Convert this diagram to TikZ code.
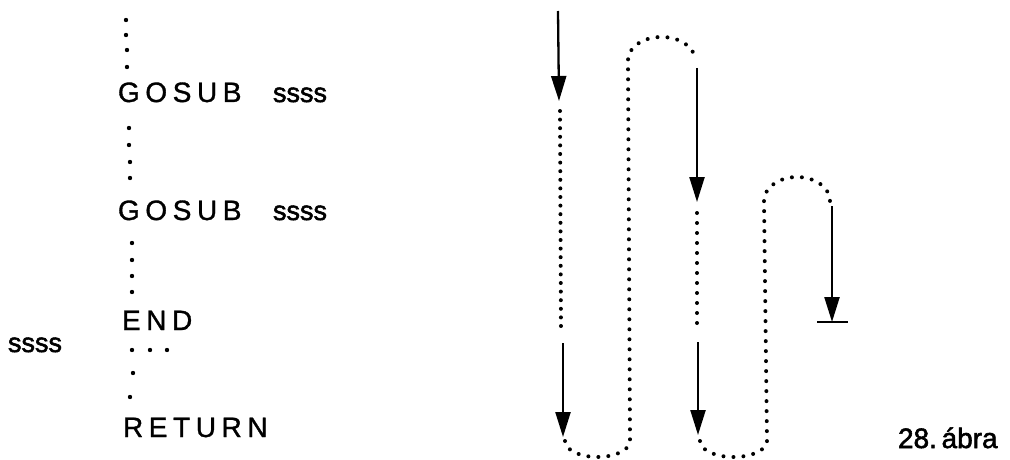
\documentclass[tikz,border=0pt]{standalone}
\usepackage{fontspec}
\setmainfont{Liberation Sans}
\newfontfamily\spaced[LetterSpace=20,FakeBold=1.2]{Liberation Sans}
\newfontfamily\heavy[FakeBold=2]{Liberation Sans}
\usetikzlibrary{arrows.meta}
\begin{document}
\begin{tikzpicture}[x=1pt,y=-1pt,
  txt/.style={anchor=base west,inner sep=0pt,outer sep=0pt,font=\fontsize{28}{28}\selectfont\spaced},
  lbl/.style={anchor=base west,inner sep=0pt,outer sep=0pt,font=\fontsize{27}{27}\selectfont\heavy},
  fig/.style={anchor=base west,inner sep=0pt,outer sep=0pt,font=\fontsize{28}{28}\selectfont\heavy},
  flow/.style={line width=2.3pt,-{Triangle[width=15pt,length=25pt]}},
  dotline/.style={line width=4pt,line cap=round,dash pattern=on 0pt off 10pt},
  dotline1/.style={line width=4pt,line cap=round,dash pattern=on 0pt off 8.6pt},
  pt/.style={fill=black}]
\useasboundingbox (0,0) rectangle (1010,460);
\fill[white] (0,0) rectangle (1010,460);

% left program listing
\foreach \x/\y in {126/20,126/35,127/50,127/67,129/128,129/145,130/162,130/178,132/243,132/260,132/276,132/292,132/350,150/350,167/350,133/373,130/397}
  \fill[pt] (\x,\y) circle[radius=2.2pt];
\node[txt] (g1) at (118,102) {GOSUB};
\node[lbl] (s1) at (273,102) {ssss};
\node[txt] (g2) at (118,220) {GOSUB};
\node[lbl] (s2) at (273,220) {ssss};
\node[txt] (en) at (122,330) {END};
\node[lbl] (s3) at (8,352) {ssss};
\node[txt] (rt) at (123,437) {RETURN};
\node[fig] (cap) at (898,448) {28.\,ábra};

% flow coordinates
\coordinate (a1s) at (558,11);  \coordinate (a1e) at (559,101);
\coordinate (d1s) at (560,111); \coordinate (d1e) at (561,333);
\coordinate (a2s) at (563,343); \coordinate (a2e) at (563,437);
\coordinate (b1s) at (565,441); \coordinate (u1) at (628,60);
\coordinate (a3s) at (697,68);  \coordinate (a3e) at (697,202);
\coordinate (d2s) at (697,213); \coordinate (d2e) at (697,330);
\coordinate (a4s) at (698,342); \coordinate (a4e) at (698,435);
\coordinate (b2s) at (700,441); \coordinate (u2) at (764,201);
\coordinate (a5s) at (832,206); \coordinate (a5e) at (832,322);
\coordinate (bl) at (817,322);  \coordinate (br) at (848,322);

\draw[flow] (a1s) -- (a1e);
\draw[dotline1] (d1s) -- (d1e);
\draw[flow] (a2s) -- (a2e);
\draw[dotline] (b1s) arc[start angle=180,end angle=0,x radius=32.5,y radius=16]
  -- (u1) arc[start angle=180,end angle=360,x radius=33.5,y radius=23];
\draw[flow] (a3s) -- (a3e);
\draw[dotline] (d2s) -- (d2e);
\draw[flow] (a4s) -- (a4e);
\draw[dotline] (b2s) arc[start angle=180,end angle=0,x radius=33.5,y radius=16]
  -- (u2) arc[start angle=180,end angle=360,x radius=33,y radius=24];
\draw[flow] (a5s) -- (a5e);
\draw[line width=2.8pt] (bl) -- (br);
\end{tikzpicture}
\end{document}
